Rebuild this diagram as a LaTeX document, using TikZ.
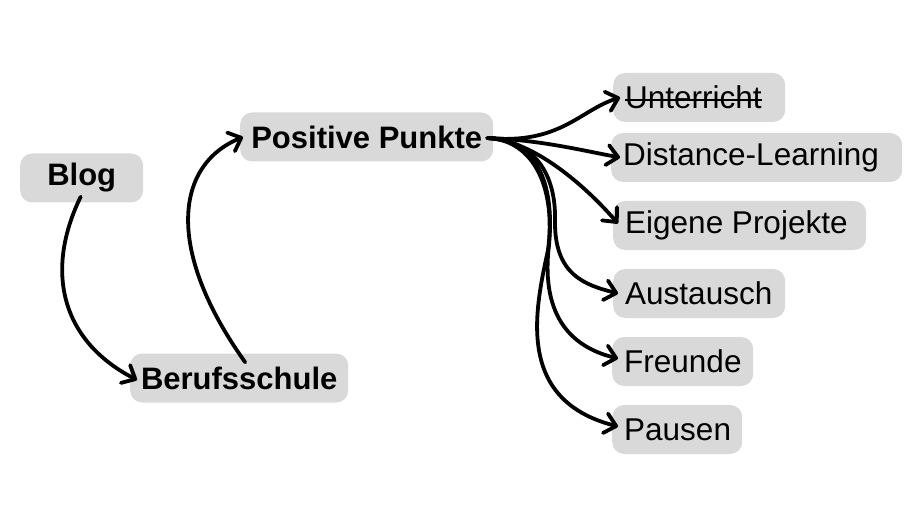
\documentclass[tikz,border=0pt]{standalone}
\usepackage{fontspec}
\setmainfont{Liberation Sans}
\usetikzlibrary{arrows.meta}
\definecolor{boxgray}{RGB}{217,217,217}
\newlength\strklen
\newcommand\mystrike[1]{\settowidth\strklen{#1}\rlap{\rule[0.26em]{\strklen}{2pt}}#1}
\begin{document}
\begin{tikzpicture}[x=1pt,y=-1pt,
  box/.style={fill=boxgray, rounded corners=12pt, anchor=west, inner xsep=12pt, inner ysep=0pt,
    minimum height=49pt, font=\fontsize{31.5}{36}\selectfont},
  bbox/.style={box, font=\fontsize{31}{36}\selectfont\bfseries},
  conn/.style={line width=3.8pt, line cap=round, line join=round,
    -{Straight Barb[length=11pt,width=20pt,line cap=round,line join=round]}}
]
\useasboundingbox (0,0) rectangle (917,529);
\node[bbox] (blog) at (20,178) {\makebox[99pt][c]{Blog}};
\node[bbox] (bs) at (130,378) {\makebox[194pt][c]{Berufsschule}};
\node[bbox] (pp) at (240,137) {\makebox[229pt][c]{Positive Punkte}};
\node[box] (u) at (613,97.5) {\makebox[148pt][l]{\mystrike{Unterricht}}};
\node[box] (dl) at (611,157.5) {\makebox[267pt][l]{Distance-Learning}};
\node[box] (ep) at (613,225.5) {\makebox[229pt][l]{Eigene Projekte}};
\node[box] (au) at (613,293.5) {\makebox[148pt][l]{Austausch}};
\node[box] (fr) at (612,361.5) {\makebox[117pt][l]{Freunde}};
\node[box] (pa) at (612,429.5) {\makebox[106pt][l]{Pausen}};

\draw[conn] ([xshift=-1pt,yshift=6pt]blog.south) .. controls (45,270) and (60,340) .. ([xshift=7pt,yshift=-2pt]bs.west);
\draw[conn] ([xshift=6pt,yshift=-9pt]bs.north) .. controls (165,250) and (175,165) .. ([xshift=3pt]pp.west);

\coordinate (s) at ([xshift=-6pt,yshift=-1pt]pp.east);
\draw[conn] (s) .. controls (560,145) and (580,110) .. ([xshift=7pt]u.west);
\draw[conn] (s) .. controls (540,140) and (580,150) .. ([xshift=9pt]dl.west);
\draw[conn] (s) .. controls (530,140) and (580,180) .. ([xshift=5pt,yshift=2pt]ep.west);
\draw[conn] (s) .. controls (535,140) and (556,175) .. (555,220) .. controls (554,275) and (585,285) .. ([xshift=5pt]au.west);
\draw[conn] (s) .. controls (535,140) and (555,180) .. (549,245) .. controls (540,320) and (575,348) .. ([xshift=6pt,yshift=3pt]fr.west);
\draw[conn] (s) .. controls (535,140) and (556,190) .. (548,250) .. controls (535,310) and (515,400) .. ([xshift=6pt,yshift=3pt]pa.west);
\end{tikzpicture}
\end{document}
